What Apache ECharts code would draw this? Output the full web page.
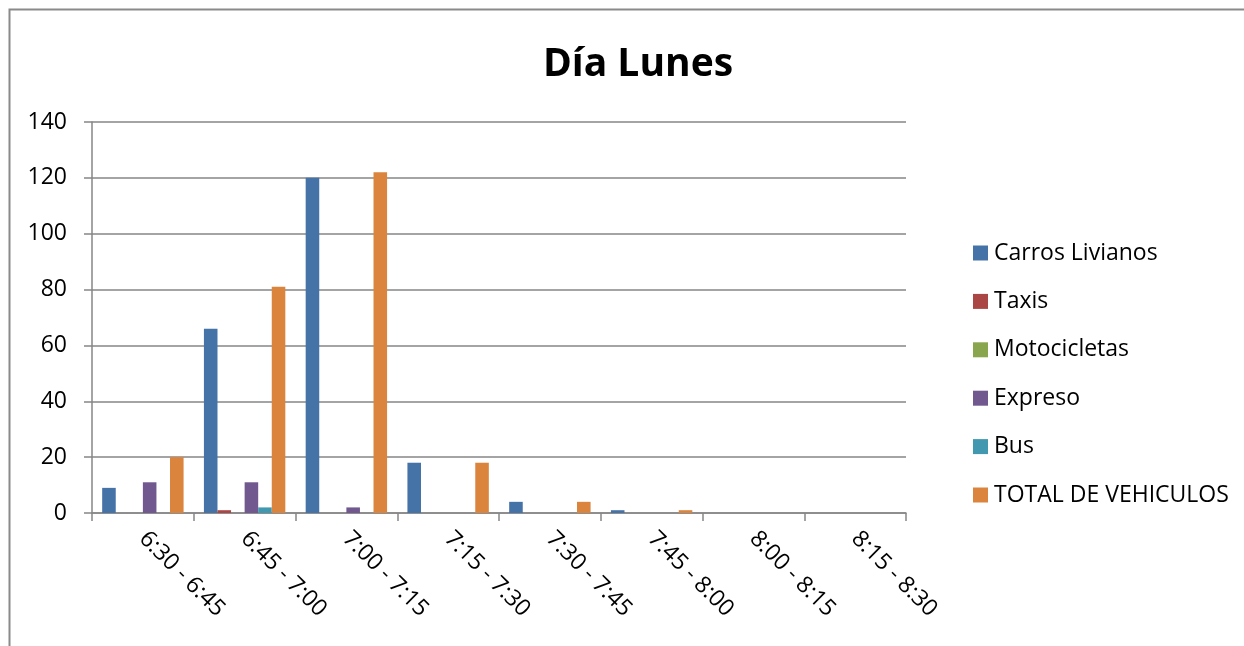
<!DOCTYPE html>
<html>
<head>
<meta charset="utf-8">
<script src="https://cdn.jsdelivr.net/npm/echarts@6/dist/echarts.min.js"></script>
<style>
  html, body { margin: 0; padding: 0; background: #fff; }
  #chart { width: 1244px; height: 646px; }
</style>
</head>
<body>
<div id="chart"></div>
<script>
// Vehicle counts per 15-minute interval, Monday
const categories = ['6:30 - 6:45', '6:45 - 7:00', '7:00 - 7:15', '7:15 - 7:30',
                    '7:30 - 7:45', '7:45 - 8:00', '8:00 - 8:15', '8:15 - 8:30'];
const carrosLivianos = [9, 66, 120, 18, 4, 1, 0, 0];
const taxis          = [0, 1, 0, 0, 0, 0, 0, 0];
const motocicletas   = [0, 0, 0, 0, 0, 0, 0, 0];
const expreso        = [11, 11, 2, 0, 0, 0, 0, 0];
const bus            = [0, 2, 0, 0, 0, 0, 0, 0];
const totalVehiculos = [20, 81, 122, 18, 4, 1, 0, 0];
const yTicks = { min: 0, max: 140, interval: 20 };

const FONT = 'Open Sans';
const AXIS_GRAY = '#868686';

const seriesDefs = [
  ['Carros Livianos', carrosLivianos, '#4572A7'],
  ['Taxis', taxis, '#AA4643'],
  ['Motocicletas', motocicletas, '#89A54E'],
  ['Expreso', expreso, '#71588F'],
  ['Bus', bus, '#4198AF'],
  ['TOTAL DE VEHICULOS', totalVehiculos, '#DB843D']
];

const chart = echarts.init(document.getElementById('chart'), null, { renderer: 'canvas' });

chart.setOption({
  animation: false,
  backgroundColor: '#ffffff',
  textStyle: { fontFamily: FONT },
  graphic: [{
    type: 'rect',
    shape: { x: 9.5, y: 9.5, width: 1400, height: 800 },
    style: { fill: 'none', stroke: '#8a8a8a', lineWidth: 2 },
    silent: true,
    z: -10
  }],
  title: {
    text: 'Día Lunes',
    left: 633,
    textAlign: 'center',
    top: 40,
    textStyle: { fontFamily: FONT, fontSize: 39, fontWeight: 'bold', color: '#000' }
  },
  legend: {
    orient: 'vertical',
    left: 968,
    top: 236.5,
    itemWidth: 15,
    itemHeight: 15,
    itemGap: 25.4,
    icon: 'rect',
    textStyle: { fontFamily: FONT, fontSize: 23, lineHeight: 23, color: '#000', padding: [0, 0, 0, 1] },
    data: seriesDefs.map(d => d[0])
  },
  grid: { left: 92, right: 338, top: 122, bottom: 133, containLabel: false },
  xAxis: {
    type: 'category',
    data: categories,
    boundaryGap: true,
    axisLine: { show: true, lineStyle: { color: AXIS_GRAY, width: 1.5 } },
    axisTick: { show: true, length: 8, alignWithLabel: false, lineStyle: { color: AXIS_GRAY, width: 1.5 } },
    axisLabel: {
      rotate: -45,
      margin: 22,
      fontFamily: FONT,
      fontSize: 23,
      color: '#000',
      interval: 0
    }
  },
  yAxis: {
    type: 'value',
    min: yTicks.min,
    max: yTicks.max,
    interval: yTicks.interval,
    axisLine: { show: true, lineStyle: { color: AXIS_GRAY, width: 1.5 } },
    axisTick: { show: true, length: 8, lineStyle: { color: AXIS_GRAY, width: 1.5 } },
    splitLine: { show: true, lineStyle: { color: AXIS_GRAY, width: 1.5 } },
    axisLabel: { margin: 25, fontFamily: FONT, fontSize: 23, color: '#000' }
  },
  series: seriesDefs.map(([name, values, color]) => ({
    name: name,
    type: 'bar',
    data: values,
    barGap: '0%',
    barCategoryGap: '20%',
    itemStyle: { color: color }
  }))
});
</script>
</body>
</html>
